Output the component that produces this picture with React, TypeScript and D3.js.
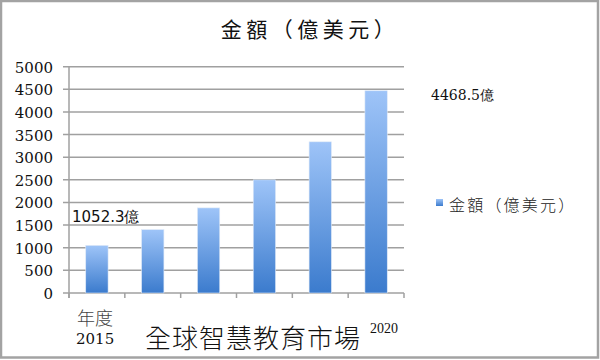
import * as d3 from "d3";
import React from "react";

// 數據
const years = ["2015", "2016", "2017", "2018", "2019", "2020"];
const values = [1052.3, 1400, 1880, 2500, 3340, 4468.5];
const yTicks = [0, 500, 1000, 1500, 2000, 2500, 3000, 3500, 4000, 4500, 5000];
const title = "金額（億美元）";
const seriesName = "金額（億美元）";
const firstLabel = "1052.3億";
const lastLabel = "4468.5億";

const W = 600;
const H = 360;
const margin = { top: 66.7, bottom: 67, left: 69, right: 196 };

const App = () => {
  const x = d3
    .scaleBand()
    .domain(years)
    .range([margin.left, W - margin.right]);

  const y = d3
    .scaleLinear()
    .domain([0, 5000])
    .range([H - margin.bottom, margin.top]);

  const barW = x.bandwidth() * 0.4;
  const y0 = y(0);
  const tickPos = years.map((d) => x(d) as number).concat([W - margin.right]);

  return (
    <svg
      width={W}
      height={H}
      style={{ position: "fixed", left: 0, top: 0, background: "#fff" }}
    >
      <defs>
        <linearGradient id="barGrad" x1="0" y1="0" x2="0" y2="1">
          <stop offset="0%" stopColor="#9ec4f8" />
          <stop offset="100%" stopColor="#3b7bcd" />
        </linearGradient>
      </defs>

      {/* 外框 */}
      <rect x={1} y={1} width={W - 3} height={H - 3.5} fill="#fff" stroke="#a3a3a3" strokeWidth={2.5} />

      {/* 標題 */}
      <text
        x={310}
        y={37}
        textAnchor="middle"
        fontFamily="'Noto Sans CJK TC', sans-serif"
        fontSize={21}
        letterSpacing={4.5}
        fill="#111"
      >
        {title}
      </text>

      {/* 格線 */}
      {yTicks.map((t) => (
        <line
          key={"g" + t}
          x1={63}
          x2={W - margin.right}
          y1={y(t)}
          y2={y(t)}
          stroke="#a0a0a0"
          strokeWidth={1.5}
        />
      ))}

      {/* Y 軸 */}
      <line x1={margin.left} x2={margin.left} y1={margin.top} y2={y0 + 5} stroke="#a0a0a0" strokeWidth={1.5} />
      {yTicks.map((t) => (
        <text
          key={"t" + t}
          x={53}
          y={y(t) + 6}
          textAnchor="end"
          fontFamily="'DejaVu Serif', serif"
          fontSize={15}
          fill="#111"
        >
          {t}
        </text>
      ))}

      {/* X 軸刻度 */}
      {tickPos.map((p, i) => (
        <line key={"x" + i} x1={p} x2={p} y1={y0} y2={y0 + 5} stroke="#a0a0a0" strokeWidth={1.5} />
      ))}

      {/* 柱 */}
      {years.map((d, i) => (
        <rect
          key={d}
          x={(x(d) as number) + x.bandwidth() / 2 - barW / 2}
          y={y(values[i])}
          width={barW}
          height={y0 - y(values[i])}
          fill="url(#barGrad)"
          stroke="#dfe9f7"
          strokeWidth={0.6}
        />
      ))}

      {/* 數據標籤 */}
      <text x={72} y={222} fontFamily="'DejaVu Sans', sans-serif" fontSize={15} fill="#111">
        {firstLabel}
      </text>
      <text x={431} y={100} fontFamily="'DejaVu Serif', serif" fontSize={14} fill="#111">
        {lastLabel}
      </text>

      {/* 圖例 */}
      <rect x={436} y={199} width={7} height={7} fill="url(#barGrad)" />
      <text
        x={449}
        y={211}
        fontFamily="'Noto Sans CJK TC', sans-serif"
        fontWeight={300}
        fontSize={16}
        letterSpacing={2.2}
        fill="#222"
      >
        {seriesName}
      </text>

      {/* X 軸文字 */}
      <text x={77} y={325} fontFamily="'Noto Sans CJK TC', sans-serif" fontWeight={300} fontSize={18} fill="#444">
        年度
      </text>
      <text x={76} y={344} fontFamily="'DejaVu Serif', serif" fontSize={15} fill="#111">
        {years[0]}
      </text>
      <text
        x={145}
        y={348}
        fontFamily="'Noto Sans CJK TC', sans-serif"
        fontWeight={300}
        fontSize={26}
        letterSpacing={1}
        fill="#111"
      >
        全球智慧教育市場
      </text>
      <text x={370} y={333} fontFamily="'Liberation Serif', serif" fontSize={14} fill="#111">
        {years[years.length - 1]}
      </text>
    </svg>
  );
};

export default App;
